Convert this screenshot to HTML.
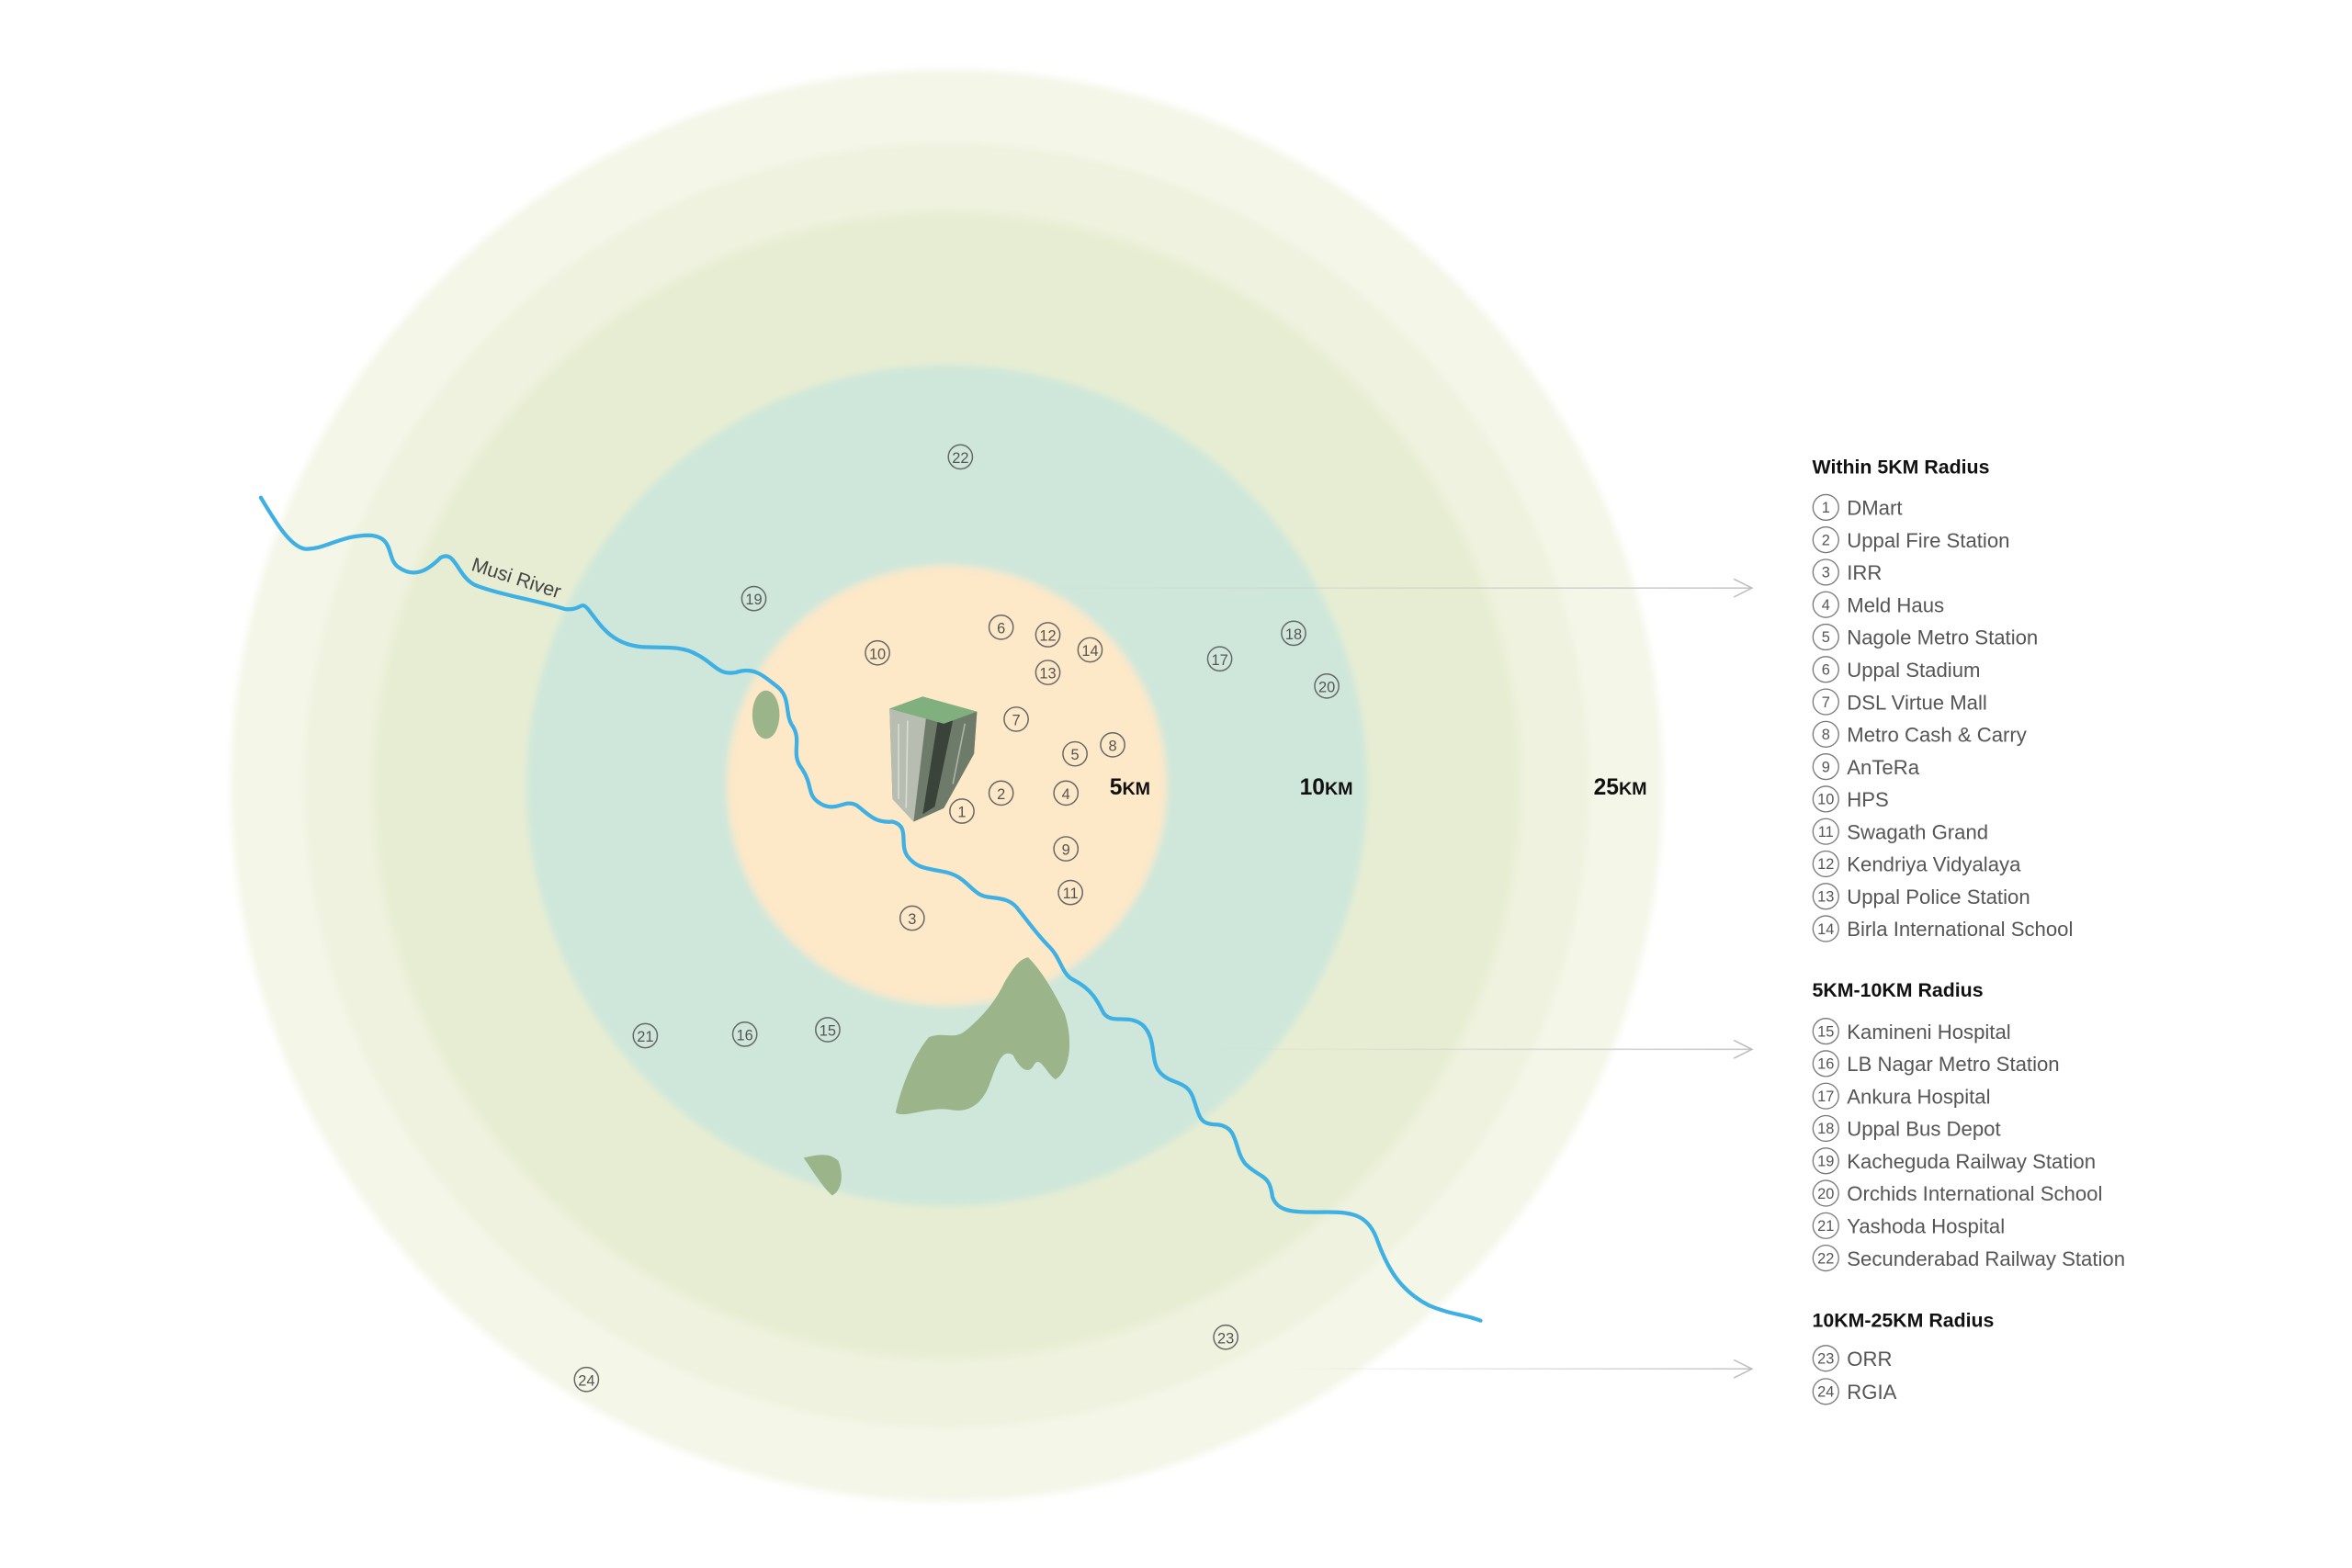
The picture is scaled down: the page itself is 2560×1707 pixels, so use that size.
<!DOCTYPE html>
<html><head><meta charset="utf-8"><style>
html,body{margin:0;padding:0;background:#fff;}
svg{display:block;}
text{font-family:"Liberation Sans",sans-serif;}
</style></head><body>
<svg width="2560" height="1707" viewBox="0 0 1560 1040" xmlns="http://www.w3.org/2000/svg">
<defs>
<filter id="b" x="-10%" y="-10%" width="120%" height="120%"><feGaussianBlur stdDeviation="2.5"/></filter>
<linearGradient id="l1" gradientUnits="userSpaceOnUse" x1="670" y1="0" x2="1162" y2="0"><stop offset="0" stop-color="#ccc" stop-opacity="0"/><stop offset="1" stop-color="#c8c8c8"/></linearGradient>
<linearGradient id="l2" gradientUnits="userSpaceOnUse" x1="805" y1="0" x2="1162" y2="0"><stop offset="0" stop-color="#ccc" stop-opacity="0"/><stop offset="1" stop-color="#c8c8c8"/></linearGradient>
<linearGradient id="l3" gradientUnits="userSpaceOnUse" x1="850" y1="0" x2="1162" y2="0"><stop offset="0" stop-color="#ccc" stop-opacity="0"/><stop offset="1" stop-color="#c8c8c8"/></linearGradient>
</defs>
<rect width="1560" height="1040" fill="#fff"/>
<g filter="url(#b)">
<circle cx="628" cy="521" r="475" fill="#f4f6e8"/>
<circle cx="628" cy="521" r="426" fill="#eef2de"/>
<circle cx="628" cy="521" r="380" fill="#e7edd2"/>
<circle cx="628" cy="521" r="279" fill="#cee7da"/>
<circle cx="628" cy="521" r="146" fill="#fde8c8"/>
</g>
<g fill="#9bb48a">
<ellipse cx="508" cy="474" rx="9" ry="16"/>
<path d="M682,635 C692,645 700,660 706,672 C712,690 710,710 700,716 C694,712 690,700 686,706 C682,714 676,708 672,700 C664,694 660,710 656,720 C650,735 640,738 630,736 C615,734 600,742 594,738 C598,720 606,700 616,688 C626,684 632,690 640,684 C650,676 660,665 666,652 C672,642 676,636 682,635 Z"/>
<path d="M533,768 C542,766 550,764 556,770 C560,780 558,790 552,793 C546,788 540,778 533,768 Z"/>
</g>
<path d="M173,330 C182,345 192,362 202,364 C215,365 225,355 245,355 C262,356 256,370 264,376 C275,384 284,378 292,370 C302,364 303,382 315,388 C330,394 355,398 375,404 C386,405 385,398 390,404 C398,414 405,427 425,429 C440,430 452,428 462,434 C474,440 476,448 488,446 C500,442 506,448 515,455 C525,462 520,474 526,482 C532,492 524,500 532,510 C540,522 534,528 546,534 C556,538 560,530 568,534 C576,540 580,546 592,545 C604,548 596,560 602,568 C608,576 615,576 625,578 C638,580 642,588 648,592 C655,598 668,592 676,604 C684,614 688,620 696,628 C704,636 704,646 712,650 C724,656 728,664 732,672 C738,680 748,672 758,680 C768,690 762,704 770,712 C778,720 788,716 792,730 C796,742 796,746 808,746 C822,748 818,762 826,772 C836,782 842,778 844,794 C848,805 860,804 880,804 C898,804 908,806 914,824 C920,840 928,856 948,866 C962,872 972,872 982,876" fill="none" stroke="#3fb0e3" stroke-width="2.6" stroke-linecap="round"/>
<text x="0" y="0" font-size="13" fill="#444" transform="translate(312,378) rotate(18)">Musi River</text>
<g>
<polygon points="590,470 612,462 648,472 646,500 626,536 606,545 592,530" fill="#8c9a86"/>
<polygon points="590,470 612,462 615,470 606,545 592,530" fill="#b7bdb0"/>
<polygon points="615,470 648,472 646,500 626,536 606,545" fill="#6e7a6a"/>
<polygon points="622,478 632,478 620,535 612,540" fill="#39433a"/>
<polygon points="590,470 612,462 648,472 626,480" fill="#7fb07e"/>
<line x1="596" y1="480" x2="596" y2="530" stroke="#d8dcd2" stroke-width="1"/>
<line x1="602" y1="478" x2="601" y2="536" stroke="#d8dcd2" stroke-width="1"/>
<line x1="640" y1="480" x2="632" y2="520" stroke="#aab4a4" stroke-width="1"/>
</g>
<g font-weight="bold" fill="#111">
<text x="736" y="527" font-size="15">5<tspan font-size="12">KM</tspan></text>
<text x="862" y="527" font-size="15">10<tspan font-size="12">KM</tspan></text>
<text x="1057" y="527" font-size="15">25<tspan font-size="12">KM</tspan></text>
</g>
<g fill="none" stroke="#666" stroke-width="0.9">
<circle cx="637" cy="303" r="8"/><circle cx="500" cy="397" r="8"/><circle cx="582" cy="433" r="8"/><circle cx="664" cy="416" r="8"/><circle cx="695" cy="421" r="8"/><circle cx="723" cy="431" r="8"/><circle cx="695" cy="446" r="8"/><circle cx="674" cy="477" r="8"/><circle cx="738" cy="494" r="8"/><circle cx="713" cy="500" r="8"/><circle cx="664" cy="526" r="8"/><circle cx="707" cy="526" r="8"/><circle cx="638" cy="538" r="8"/><circle cx="707" cy="563" r="8"/><circle cx="710" cy="592" r="8"/><circle cx="605" cy="609" r="8"/><circle cx="809" cy="437" r="8"/><circle cx="858" cy="420" r="8"/><circle cx="880" cy="455" r="8"/><circle cx="428" cy="687" r="8"/><circle cx="494" cy="686" r="8"/><circle cx="549" cy="683" r="8"/><circle cx="813" cy="887" r="8"/><circle cx="389" cy="915" r="8"/>
</g>
<g font-size="10" fill="#555" text-anchor="middle">
<text x="637" y="307">22</text><text x="500" y="401">19</text><text x="582" y="437">10</text><text x="664" y="420">6</text><text x="695" y="425">12</text><text x="723" y="435">14</text><text x="695" y="450">13</text><text x="674" y="481">7</text><text x="738" y="498">8</text><text x="713" y="504">5</text><text x="664" y="530">2</text><text x="707" y="530">4</text><text x="638" y="542">1</text><text x="707" y="567">9</text><text x="710" y="596">11</text><text x="605" y="613">3</text><text x="809" y="441">17</text><text x="858" y="424">18</text><text x="880" y="459">20</text><text x="428" y="691">21</text><text x="494" y="690">16</text><text x="549" y="687">15</text><text x="813" y="891">23</text><text x="389" y="919">24</text>
</g>
<g stroke-width="1" fill="none">
<line x1="670" y1="390" x2="1162" y2="390" stroke="url(#l1)"/>
<line x1="805" y1="696" x2="1162" y2="696" stroke="url(#l2)"/>
<line x1="850" y1="908" x2="1162" y2="908" stroke="url(#l3)"/>
</g>
<g stroke="#bbb" stroke-width="0.9" fill="none">
<polyline points="1150,384 1162,390 1150,396"/>
<polyline points="1150,690 1162,696 1150,702"/>
<polyline points="1150,902 1162,908 1150,914"/>
</g>
<g font-size="13" font-weight="bold" fill="#111">
<text x="1202" y="314">Within 5KM Radius</text>
<text x="1202" y="661">5KM-10KM Radius</text>
<text x="1202" y="880">10KM-25KM Radius</text>
</g>
<g fill="none" stroke="#777" stroke-width="0.8">
<circle cx="1211" cy="336.5" r="8.5"/><circle cx="1211" cy="358" r="8.5"/><circle cx="1211" cy="379.5" r="8.5"/><circle cx="1211" cy="401" r="8.5"/><circle cx="1211" cy="422.5" r="8.5"/><circle cx="1211" cy="444" r="8.5"/><circle cx="1211" cy="465.5" r="8.5"/><circle cx="1211" cy="487" r="8.5"/><circle cx="1211" cy="508.5" r="8.5"/><circle cx="1211" cy="530" r="8.5"/><circle cx="1211" cy="551.5" r="8.5"/><circle cx="1211" cy="573" r="8.5"/><circle cx="1211" cy="594.5" r="8.5"/><circle cx="1211" cy="616" r="8.5"/>
<circle cx="1211" cy="684" r="8.5"/><circle cx="1211" cy="705.5" r="8.5"/><circle cx="1211" cy="727" r="8.5"/><circle cx="1211" cy="748.5" r="8.5"/><circle cx="1211" cy="770" r="8.5"/><circle cx="1211" cy="791.5" r="8.5"/><circle cx="1211" cy="813" r="8.5"/><circle cx="1211" cy="834.5" r="8.5"/>
<circle cx="1211" cy="901" r="8.5"/><circle cx="1211" cy="923" r="8.5"/>
</g>
<g font-size="10" fill="#555" text-anchor="middle">
<text x="1211" y="340">1</text><text x="1211" y="361.5">2</text><text x="1211" y="383">3</text><text x="1211" y="404.5">4</text><text x="1211" y="426">5</text><text x="1211" y="447.5">6</text><text x="1211" y="469">7</text><text x="1211" y="490.5">8</text><text x="1211" y="512">9</text><text x="1211" y="533.5">10</text><text x="1211" y="555">11</text><text x="1211" y="576.5">12</text><text x="1211" y="598">13</text><text x="1211" y="619.5">14</text>
<text x="1211" y="687.5">15</text><text x="1211" y="709">16</text><text x="1211" y="730.5">17</text><text x="1211" y="752">18</text><text x="1211" y="773.5">19</text><text x="1211" y="795">20</text><text x="1211" y="816.5">21</text><text x="1211" y="838">22</text>
<text x="1211" y="904.5">23</text><text x="1211" y="926.5">24</text>
</g>
<g font-size="13.5" fill="#555">
<text x="1225" y="341.5">DMart</text><text x="1225" y="363">Uppal Fire Station</text><text x="1225" y="384.5">IRR</text><text x="1225" y="406">Meld Haus</text><text x="1225" y="427.5">Nagole Metro Station</text><text x="1225" y="449">Uppal Stadium</text><text x="1225" y="470.5">DSL Virtue Mall</text><text x="1225" y="492">Metro Cash &amp; Carry</text><text x="1225" y="513.5">AnTeRa</text><text x="1225" y="535">HPS</text><text x="1225" y="556.5">Swagath Grand</text><text x="1225" y="578">Kendriya Vidyalaya</text><text x="1225" y="599.5">Uppal Police Station</text><text x="1225" y="621">Birla International School</text>
<text x="1225" y="689">Kamineni Hospital</text><text x="1225" y="710.5">LB Nagar Metro Station</text><text x="1225" y="732">Ankura Hospital</text><text x="1225" y="753.5">Uppal Bus Depot</text><text x="1225" y="775">Kacheguda Railway Station</text><text x="1225" y="796.5">Orchids International School</text><text x="1225" y="818">Yashoda Hospital</text><text x="1225" y="839.5">Secunderabad Railway Station</text>
<text x="1225" y="906">ORR</text><text x="1225" y="928">RGIA</text>
</g>
</svg>
</body></html>
